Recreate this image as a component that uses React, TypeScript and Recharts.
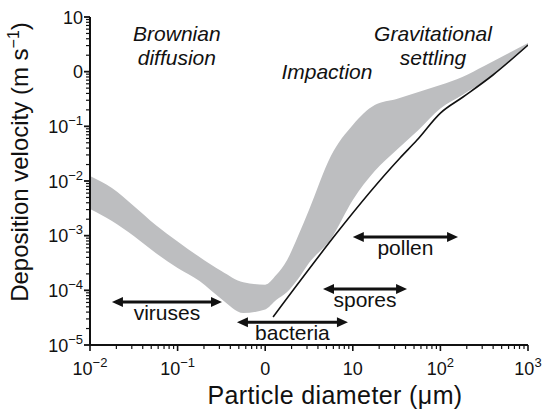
import {
  Area,
  ComposedChart,
  Line,
  ReferenceDot,
  ReferenceLine,
  XAxis,
  YAxis,
} from 'recharts'

// particle diameter (µm) grid for the grey band
const diameters = [
  0.01, 0.0178, 0.0316, 0.0562, 0.1, 0.178, 0.316, 0.562, 1, 1.334, 1.78, 2.371, 3.16, 5.62, 10,
  17.8, 31.6, 56.2, 100, 178, 316, 562, 1000,
]
const bandUpper = [
  0.01236, 0.00745, 0.00349, 0.001567, 7.83e-4, 4.07e-4, 2.26e-4, 1.4e-4, 1.27e-4, 1.9e-4, 3.59e-4,
  9.86e-4, 0.00295, 0.0287, 0.106, 0.245, 0.316, 0.425, 0.57, 0.799, 1.27, 2.06, 3.34,
]
const bandLower = [
  0.00308, 0.00186, 9.87e-4, 4.82e-4, 2.56e-4, 1.48e-4, 6.95e-5, 3.85e-5, 4.47e-5, 6.65e-5, 9.33e-5,
  1.61e-4, 3.16e-4, 8.69e-4, 0.0045, 0.01524, 0.0369, 0.0857, 0.212, 0.374, 0.675, 1.38, 2.95,
]

// black settling-velocity line
const lineDiameters = [1.23, 34.6, 54.1, 100, 181, 398, 1000]
const lineVelocity = [3.26e-5, 0.0264, 0.0562, 0.175, 0.344, 0.869, 3.07]

// size ranges (double arrows)
const particleNames = ['viruses', 'bacteria', 'spores', 'pollen']
const particleFrom = [0.0178, 0.476, 4.57, 10]
const particleTo = [0.321, 8.8, 41.6, 159]
const particleLevel = [6.1e-5, 2.6e-5, 1.06e-4, 9.5e-4]

// regime labels
const regimeLines = [['Brownian', 'diffusion'], ['Impaction'], ['Gravitational', 'settling']]
const regimeX = [0.098, 5.07, 82.4]
const regimeY = [3.64, 0.734, 3.64]

const xTicks = [0.01, 0.1, 1, 10, 100].flatMap((d) => [1, 2, 3, 4, 5, 6, 7, 8, 9].map((m) => m * d)).concat([1000])
const yTicks = [1e-5, 1e-4, 1e-3, 1e-2, 1e-1, 1].flatMap((d) => [1, 2, 3, 4, 5, 6, 7, 8, 9].map((m) => m * d)).concat([10])
const xTickLabels = [['10', '−2'], ['10', '−1'], ['0', ''], ['10', ''], ['10', '2'], ['10', '3']]
const yTickLabels = [['10', '−5'], ['10', '−4'], ['10', '−3'], ['10', '−2'], ['10', '−1'], ['0', ''], ['10', '']]

const bandData = diameters.map((d, i) => ({ d, band: [bandLower[i], bandUpper[i]] }))
const lineData = lineDiameters.map((d, i) => ({ d, v: lineVelocity[i] }))

const INK = '#111'

function decade(v: number) {
  const l = Math.log10(v)
  const e = Math.round(l)
  return { e, major: Math.abs(l - e) < 1e-6 }
}

function XTick(props: any) {
  const { x, y, payload } = props
  const { e, major } = decade(payload.value)
  const lab = xTickLabels[e + 2]
  return (
    <g>
      <line x1={x} x2={x} y1={y} y2={y + (major ? 6 : 4)} stroke={INK} strokeWidth={major ? 1.6 : 1.2} />
      {major && lab && (
        <text x={x} y={y + 30} textAnchor="middle" fontSize={18} fill={INK}>
          <tspan>{lab[0]}</tspan>
          {lab[1] && (
            <tspan dy={-8} fontSize={13}>
              {lab[1]}
            </tspan>
          )}
        </text>
      )}
    </g>
  )
}

function YTick(props: any) {
  const { x, y, payload } = props
  const { e, major } = decade(payload.value)
  const lab = yTickLabels[e + 5]
  return (
    <g>
      <line x1={x} x2={x - (major ? 6 : 4)} y1={y} y2={y} stroke={INK} strokeWidth={major ? 1.8 : 1.2} />
      {major && lab && (
        <text x={x - 7} y={y + 6.5} textAnchor="end" fontSize={18} fill={INK}>
          <tspan>{lab[0]}</tspan>
          {lab[1] && (
            <tspan dy={-8} fontSize={13}>
              {lab[1]}
            </tspan>
          )}
        </text>
      )}
    </g>
  )
}

const arrowShape = (name: string) => (props: any) => {
  const { x1, y1, x2 } = props
  const left = Math.min(x1, x2)
  const right = Math.max(x1, x2)
  const y = y1
  return (
    <g>
      <line x1={left + 8} x2={right - 8} y1={y} y2={y} stroke={INK} strokeWidth={3} />
      <polygon points={`${left},${y} ${left + 11},${y - 5} ${left + 11},${y + 5}`} fill={INK} />
      <polygon points={`${right},${y} ${right - 11},${y - 5} ${right - 11},${y + 5}`} fill={INK} />
      <text x={(left + right) / 2} y={y + 18} textAnchor="middle" fontSize={21} fill={INK}>
        {name}
      </text>
    </g>
  )
}

const regimeShape = (lines: string[]) => (props: any) => {
  const { cx, cy } = props
  return (
    <text x={cx} y={cy} textAnchor="middle" fontSize={21} fontStyle="italic" fill={INK}>
      {lines.map((t, i) => (
        <tspan key={t} x={cx} dy={i === 0 ? 0 : 24}>
          {t}
        </tspan>
      ))}
    </text>
  )
}

const xTitle = (props: any) => {
  const { x, y } = props.viewBox
  return (
    <text x={x + 245} y={y + 59} textAnchor="middle" fontSize={25} letterSpacing={0.4} fill={INK}>
      Particle diameter (μm)
    </text>
  )
}

const yTitle = (props: any) => {
  const { x, y } = props.viewBox
  const cx = x + 28
  const cy = y + 145
  return (
    <text x={cx} y={cy} textAnchor="middle" fontSize={24} fill={INK} transform={`rotate(-90, ${cx}, ${cy})`}>
      <tspan>Deposition velocity (m s</tspan>
      <tspan dy={-9} fontSize={16}>
        −1
      </tspan>
      <tspan dy={9}>)</tspan>
    </text>
  )
}

export default function App() {
  return (
    <div
      style={{
        position: 'absolute',
        left: 0,
        top: 0,
        width: 547,
        height: 411,
        background: '#fff',
        fontFamily: '"Liberation Sans", Arial, Helvetica, sans-serif',
      }}
    >
      <ComposedChart width={547} height={411} data={bandData} margin={{ top: 17, right: 19, left: 0, bottom: 0 }}>
        <XAxis
          dataKey="d"
          type="number"
          scale="log"
          domain={[0.01, 1000]}
          allowDataOverflow
          ticks={xTicks}
          interval={0}
          tick={<XTick />}
          tickLine={false}
          tickSize={0}
          tickMargin={0}
          axisLine={{ stroke: INK, strokeWidth: 2 }}
          height={66}
          label={{ content: xTitle }}
        />
        <YAxis
          type="number"
          scale="log"
          domain={[1e-5, 10]}
          allowDataOverflow
          ticks={yTicks}
          interval={0}
          tick={<YTick />}
          tickLine={false}
          tickSize={0}
          tickMargin={0}
          axisLine={{ stroke: INK, strokeWidth: 2 }}
          width={90}
          label={{ content: yTitle }}
        />
        <Area
          dataKey="band"
          type="monotone"
          stroke="none"
          fill="#bdbec0"
          fillOpacity={1}
          isAnimationActive={false}
          dot={false}
          activeDot={false}
        />
        <Line
          data={lineData}
          dataKey="v"
          type="monotone"
          stroke={INK}
          strokeWidth={1.6}
          dot={false}
          activeDot={false}
          isAnimationActive={false}
        />
        {particleNames.map((name, i) => (
          <ReferenceLine
            key={name}
            segment={[
              { x: particleFrom[i], y: particleLevel[i] },
              { x: particleTo[i], y: particleLevel[i] },
            ]}
            shape={arrowShape(name)}
          />
        ))}
        {regimeLines.map((lines, i) => (
          <ReferenceDot key={lines[0]} x={regimeX[i]} y={regimeY[i]} r={0} shape={regimeShape(lines)} />
        ))}
      </ComposedChart>
    </div>
  )
}
